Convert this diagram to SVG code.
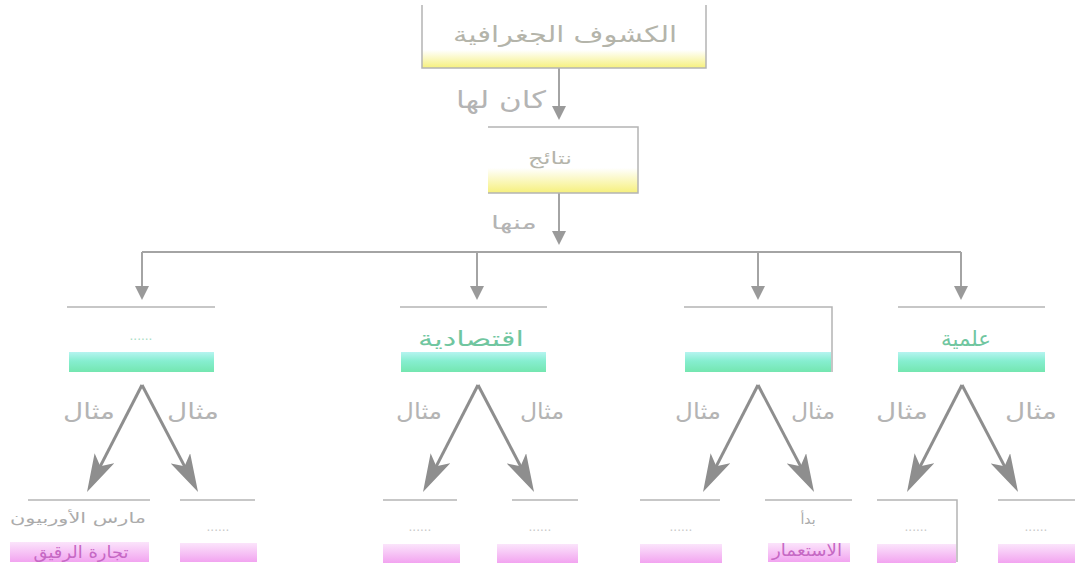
<svg xmlns="http://www.w3.org/2000/svg" width="1075" height="569" viewBox="0 0 1075 569">
<style>
.bg{fill:#ffffff}
.edge{stroke:#a4a4a4;stroke-width:2;fill:none}
.diag{stroke:#8e8e8e;stroke-width:3;fill:none}
.rule{stroke:#b4b4b4;stroke-width:1.5;fill:none}
.lbl{font-family:"DejaVu Sans",sans-serif;fill:#b4b4b4;text-anchor:middle}
.ttl{font-family:"DejaVu Sans",sans-serif;fill:#b4b4aa;text-anchor:middle}
.grn{font-family:"DejaVu Sans",sans-serif;fill:#70c6a0;text-anchor:middle;font-size:21px}
.pnk{font-family:"DejaVu Sans",sans-serif;fill:#c668c4;text-anchor:middle;font-size:17px}
.sm{font-family:"DejaVu Sans",sans-serif;fill:#ababab;text-anchor:middle;font-size:14px}
.dots{font-family:"DejaVu Sans",sans-serif;fill:#c8c8c8;text-anchor:middle;font-size:12px}
.gdots{font-family:"DejaVu Sans",sans-serif;fill:#a8dcc4;text-anchor:middle;font-size:12px}
</style>
<defs>
<linearGradient id="yel" x1="0" y1="0" x2="0" y2="1">
<stop offset="0" stop-color="#ffffff"/>
<stop offset="1" stop-color="#f6f07c"/>
</linearGradient>
<linearGradient id="grn" x1="0" y1="0" x2="0" y2="1">
<stop offset="0" stop-color="#b6f4f0"/>
<stop offset="0.45" stop-color="#86eed0"/>
<stop offset="1" stop-color="#74e6b0"/>
</linearGradient>
<linearGradient id="pnk" x1="0" y1="0" x2="0" y2="1">
<stop offset="0" stop-color="#fbe4fb"/>
<stop offset="1" stop-color="#f2a4f0"/>
</linearGradient>
<marker id="tri" viewBox="0 0 14 14" refX="10" refY="7" markerWidth="14" markerHeight="14" markerUnits="userSpaceOnUse" orient="auto">
<path d="M0,0 L14,7 L0,14 Z" fill="#9a9a9a"/>
</marker>
<marker id="stealth" viewBox="0 0 38 22" refX="28" refY="11" markerWidth="38" markerHeight="22" markerUnits="userSpaceOnUse" orient="auto">
<path d="M0,0 L38,11 L0,22 L9,11 Z" fill="#8e8e8e"/>
</marker>
</defs>
<rect class="bg" x="0" y="0" width="1075" height="569"/>

<g id="connectors">
<line class="edge" x1="559" y1="68" x2="559" y2="116" marker-end="url(#tri)"/>
<line class="edge" x1="559" y1="193" x2="559" y2="241" marker-end="url(#tri)"/>
<polyline class="edge" points="142,252 961,252"/>
<line class="edge" x1="142" y1="252" x2="142" y2="296" marker-end="url(#tri)"/>
<line class="edge" x1="477" y1="252" x2="477" y2="296" marker-end="url(#tri)"/>
<line class="edge" x1="758" y1="252" x2="758" y2="296" marker-end="url(#tri)"/>
<line class="edge" x1="961" y1="252" x2="961" y2="296" marker-end="url(#tri)"/>
<text class="lbl" x="501" y="108" font-size="24" textLength="90" lengthAdjust="spacingAndGlyphs">كان لها</text>
<text class="lbl" x="514" y="229" font-size="18" textLength="46" lengthAdjust="spacingAndGlyphs">منها</text>

<line class="diag" x1="142" y1="385" x2="91.6" y2="483.1" marker-end="url(#stealth)"/>
<line class="diag" x1="142" y1="385" x2="193.4" y2="483.1" marker-end="url(#stealth)"/>
<line class="diag" x1="478" y1="385" x2="427.6" y2="483.1" marker-end="url(#stealth)"/>
<line class="diag" x1="478" y1="385" x2="529.4" y2="483.1" marker-end="url(#stealth)"/>
<line class="diag" x1="758" y1="385" x2="707.6" y2="483.1" marker-end="url(#stealth)"/>
<line class="diag" x1="758" y1="385" x2="809.4" y2="483.1" marker-end="url(#stealth)"/>
<line class="diag" x1="962" y1="385" x2="911.6" y2="483.1" marker-end="url(#stealth)"/>
<line class="diag" x1="962" y1="385" x2="1013.4" y2="483.1" marker-end="url(#stealth)"/>
<text class="lbl" x="89" y="419" font-size="22" textLength="52" lengthAdjust="spacingAndGlyphs">مثال</text>
<text class="lbl" x="193" y="419" font-size="22" textLength="52" lengthAdjust="spacingAndGlyphs">مثال</text>
<text class="lbl" x="419" y="419" font-size="22" textLength="46" lengthAdjust="spacingAndGlyphs">مثال</text>
<text class="lbl" x="542" y="419" font-size="22" textLength="44" lengthAdjust="spacingAndGlyphs">مثال</text>
<text class="lbl" x="698" y="419" font-size="22" textLength="46" lengthAdjust="spacingAndGlyphs">مثال</text>
<text class="lbl" x="813" y="419" font-size="22" textLength="44" lengthAdjust="spacingAndGlyphs">مثال</text>
<text class="lbl" x="902" y="419" font-size="22" textLength="52" lengthAdjust="spacingAndGlyphs">مثال</text>
<text class="lbl" x="1031" y="419" font-size="22" textLength="52" lengthAdjust="spacingAndGlyphs">مثال</text>
</g>

<g id="n-top">
<rect x="422" y="50" width="284" height="18" fill="url(#yel)"/>
<polyline class="rule" points="422,5 422,68 706,68 706,5"/>
<text class="ttl" x="565" y="42" font-size="22" textLength="224" lengthAdjust="spacingAndGlyphs">الكشوف الجغرافية</text>
</g>

<g id="n-results">
<rect x="488" y="168" width="150" height="25" fill="url(#yel)"/>
<polyline class="rule" points="488,127 638,127 638,193 488,193"/>
<text class="ttl" x="550" y="164" font-size="17" textLength="44" lengthAdjust="spacingAndGlyphs">نتائج</text>
</g>

<g id="n-l2-1">
<line class="rule" x1="67" y1="307" x2="215" y2="307"/>
<rect x="69" y="352" width="145" height="20" fill="url(#grn)"/>
<text class="gdots" x="141" y="340">......</text>
</g>
<g id="n-l2-2">
<line class="rule" x1="400" y1="307" x2="547" y2="307"/>
<rect x="401" y="352" width="145" height="20" fill="url(#grn)"/>
<text class="grn" x="471" y="346" textLength="106" lengthAdjust="spacingAndGlyphs">اقتصادية</text>
</g>
<g id="n-l2-3">
<polyline class="rule" points="684,307 832,307 832,372"/>
<rect x="685" y="352" width="146" height="20" fill="url(#grn)"/>
</g>
<g id="n-l2-4">
<line class="rule" x1="898" y1="307" x2="1045" y2="307"/>
<rect x="898" y="352" width="147" height="20" fill="url(#grn)"/>
<text class="grn" x="966" y="346" textLength="50" lengthAdjust="spacingAndGlyphs">علمية</text>
</g>

<g id="n-b1">
<line class="rule" x1="28" y1="500" x2="150" y2="500"/>
<rect x="10" y="542" width="139" height="20" fill="url(#pnk)"/>
<text class="sm" x="78" y="523" textLength="136" lengthAdjust="spacingAndGlyphs">مارس الأوربيون</text>
<text class="pnk" x="81" y="558" textLength="95" lengthAdjust="spacingAndGlyphs">تجارة الرقيق</text>
</g>
<g id="n-b2">
<line class="rule" x1="180" y1="500" x2="255" y2="500"/>
<rect x="180" y="543" width="77" height="19" fill="url(#pnk)"/>
<text class="dots" x="218" y="531">......</text>
</g>
<g id="n-b3">
<line class="rule" x1="383" y1="500" x2="457" y2="500"/>
<rect x="383" y="544" width="77" height="19" fill="url(#pnk)"/>
<text class="dots" x="420" y="531">......</text>
</g>
<g id="n-b4">
<line class="rule" x1="512" y1="500" x2="578" y2="500"/>
<rect x="497" y="544" width="81" height="19" fill="url(#pnk)"/>
<text class="dots" x="540" y="531">......</text>
</g>
<g id="n-b5">
<line class="rule" x1="640" y1="500" x2="720" y2="500"/>
<rect x="640" y="544" width="82" height="19" fill="url(#pnk)"/>
<text class="dots" x="681" y="531">......</text>
</g>
<g id="n-b6">
<line class="rule" x1="765" y1="500" x2="852" y2="500"/>
<rect x="768" y="543" width="82" height="19" fill="url(#pnk)"/>
<text class="sm" x="808" y="524">بدأ</text>
<text class="pnk" x="807" y="556" textLength="70" lengthAdjust="spacingAndGlyphs">الاستعمار</text>
</g>
<g id="n-b7">
<polyline class="rule" points="877,500 957,500 957,562"/>
<rect x="877" y="544" width="79" height="19" fill="url(#pnk)"/>
<text class="dots" x="916" y="531">......</text>
</g>
<g id="n-b8">
<line class="rule" x1="998" y1="500" x2="1075" y2="500"/>
<rect x="998" y="544" width="77" height="19" fill="url(#pnk)"/>
<text class="dots" x="1036" y="531">......</text>
</g>
</svg>
